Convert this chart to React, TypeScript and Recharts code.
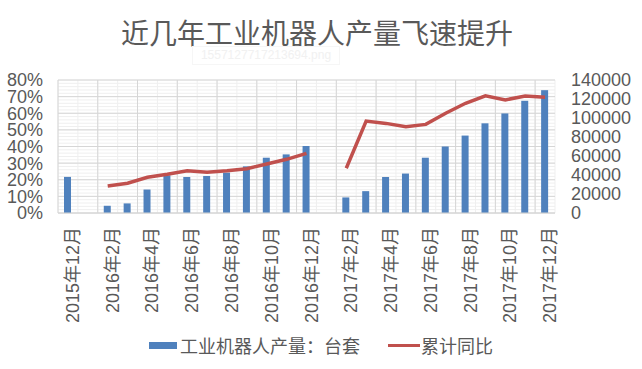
import React from 'react';
import { ComposedChart, Bar, Line, XAxis, YAxis, CartesianGrid, Legend } from 'recharts';

const categories = [
  '2015年12月', '2016年1月', '2016年2月', '2016年3月', '2016年4月', '2016年5月', '2016年6月',
  '2016年7月', '2016年8月', '2016年9月', '2016年10月', '2016年11月', '2016年12月',
  '2017年1月', '2017年2月', '2017年3月', '2017年4月', '2017年5月', '2017年6月',
  '2017年7月', '2017年8月', '2017年9月', '2017年10月', '2017年11月', '2017年12月',
];

// 工业机器人产量：台套
const production: (number | null)[] = [
  38000, null, 7600, 10100, 24700, 39700, 37900, 39000, 42500, 49100, 58200, 61700, 70500,
  null, 16400, 23000, 37900, 41500, 58200, 70000, 81500, 94400, 104800, 118100, 129300,
];

// 累计同比 (%)
const yoy: (number | null)[] = [
  null, null, 16.2, 17.9, 21.5, 23.3, 25.4, 24.5, 25.4, 26.6, 29.5, 32.3, 35.9,
  null, 26.9, 55.3, 53.9, 51.9, 53.3, 60.0, 66.0, 70.5, 68.0, 70.4, 69.6,
];

const leftTicks = [0, 10, 20, 30, 40, 50, 60, 70, 80];
const rightTicks = [0, 20000, 40000, 60000, 80000, 100000, 120000, 140000];
const boundaryTicks = [0, 2, 4, 6, 8, 10, 12, 14, 16, 18, 20, 22, 24];

const data = categories.map((month, i) => ({ month, production: production[i], yoy: yoy[i] }));

const FONT = '"Liberation Sans", Arial, "Noto Sans CJK SC", sans-serif';
const TEXT = '#595959';

const XTick = (props: any) => {
  const { x, y, payload } = props;
  const tx = x + 5;
  const ty = y;
  return (
    <text
      x={tx}
      y={ty}
      transform={`rotate(-90, ${tx}, ${ty})`}
      textAnchor="end"
      dominantBaseline="central"
      fill={TEXT}
      fontSize={18}
      fontFamily={FONT}
    >
      {payload.value}
    </text>
  );
};

const LegendContent = () => (
  <div
    style={{
      height: 24,
      display: 'flex',
      alignItems: 'center',
      justifyContent: 'center',
      fontFamily: FONT,
      fontSize: 18,
      color: TEXT,
    }}
  >
    <span style={{ display: 'inline-block', width: 28, height: 7, background: '#4F81BD', marginRight: 3 }} />
    <span>工业机器人产量：台套</span>
    <span style={{ display: 'inline-block', width: 32, height: 3, background: '#C0504D', marginLeft: 28, marginRight: 1 }} />
    <span>累计同比</span>
  </div>
);

export default function App() {
  return (
    <div style={{ position: 'absolute', left: 0, top: 0, width: 642, height: 369, background: '#fff' }}>
      <div
        style={{
          position: 'absolute',
          left: 0,
          top: 17,
          width: 634,
          textAlign: 'center',
          fontSize: 28,
          lineHeight: '36px',
          color: TEXT,
          fontFamily: FONT,
        }}
      >
        近几年工业机器人产量飞速提升
      </div>
      <div
        style={{
          position: 'absolute',
          left: 192,
          top: 46,
          width: 146,
          height: 17,
          border: '1px solid #f6f6f6',
          color: '#f1f1f1',
          fontSize: 12,
          lineHeight: '17px',
          textAlign: 'center',
          fontFamily: FONT,
        }}
      >
        1557127717213694.png
      </div>
      <ComposedChart
        width={642}
        height={369}
        data={data}
        margin={{ top: 80, right: 0, left: 0, bottom: 12 }}
        style={{ position: 'absolute', left: 0, top: 0 }}
      >
        <CartesianGrid
          yAxisId="left"
          stroke="#efefef"
          fill="none"
          horizontalCoordinatesGenerator={({ offset }: any) =>
            Array.from({ length: 41 }, (_, i) => offset.top + (i * offset.height) / 40)
          }
          verticalCoordinatesGenerator={({ offset }: any) =>
            Array.from({ length: 26 }, (_, i) => offset.left + (i * offset.width) / 25)
          }
        />
        <CartesianGrid
          yAxisId="left"
          stroke="#d6d6d6"
          fill="none"
          verticalCoordinatesGenerator={({ offset }: any) =>
            Array.from({ length: 13 }, (_, i) => offset.left + (2 * i * offset.width) / 25)
          }
        />
        <XAxis
          xAxisId="marks"
          type="number"
          domain={[0, 25]}
          ticks={boundaryTicks}
          interval={0}
          height={0}
          tick={false}
          tickSize={5}
          tickLine={{ stroke: '#d6d6d6' }}
          axisLine={false}
        />
        <XAxis
          dataKey="month"
          interval={1}
          height={120}
          tick={<XTick />}
          tickLine={false}
          tickSize={0}
          tickMargin={14}
          axisLine={{ stroke: '#d6d6d6' }}
        />
        <YAxis
          yAxisId="left"
          orientation="left"
          width={58}
          domain={[0, 80]}
          ticks={leftTicks}
          interval={0}
          tickFormatter={(v: number) => `${v}%`}
          axisLine={false}
          tickLine={false}
          tickSize={0}
          tickMargin={15}
          tick={{ fill: TEXT, fontSize: 18, fontFamily: FONT }}
        />
        <YAxis
          yAxisId="right"
          orientation="right"
          width={87}
          domain={[0, 140000]}
          ticks={rightTicks}
          interval={0}
          axisLine={false}
          tickLine={false}
          tickSize={0}
          tickMargin={16}
          tick={{ fill: TEXT, fontSize: 18, fontFamily: FONT }}
        />
        <Bar
          yAxisId="right"
          dataKey="production"
          name="工业机器人产量：台套"
          fill="#4F81BD"
          barSize={7}
          isAnimationActive={false}
        />
        <Line
          yAxisId="left"
          dataKey="yoy"
          name="累计同比"
          stroke="#C0504D"
          strokeWidth={3.5}
          dot={false}
          activeDot={false}
          connectNulls={false}
          type="linear"
          isAnimationActive={false}
        />
        <Legend verticalAlign="bottom" content={<LegendContent />} />
      </ComposedChart>
    </div>
  );
}
